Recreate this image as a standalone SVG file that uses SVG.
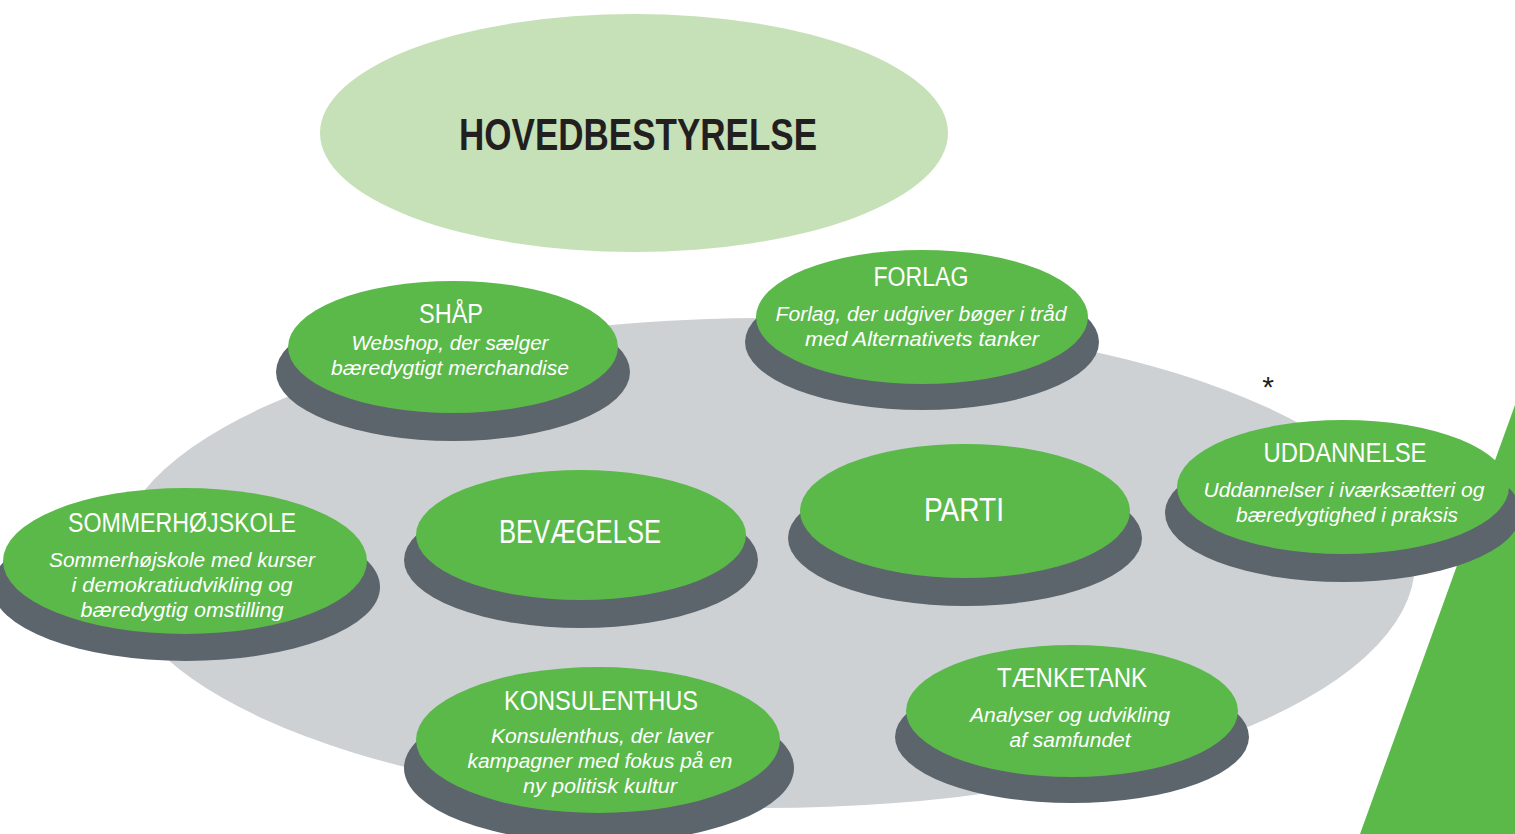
<svg xmlns="http://www.w3.org/2000/svg" width="1515" height="834" viewBox="0 0 1515 834">
<style>
.shadow{fill:#5c656b}
.node{fill:#5bb94a}
.title{font-family:"Liberation Sans",Arial,sans-serif;fill:#ffffff;text-anchor:middle;font-size:27px}
.big{font-size:33px}
.sub{font-family:"Liberation Sans",Arial,sans-serif;font-style:italic;fill:#ffffff;text-anchor:middle;font-size:19.5px}
</style>
<rect width="1515" height="834" fill="#ffffff"/>
<g id="hovedbestyrelse">
<ellipse cx="634" cy="133" rx="314" ry="119" fill="#c6e1b8"/>
<text x="638" y="150" font-family="Liberation Sans,Arial,sans-serif" font-weight="bold" font-size="44" fill="#231f20" text-anchor="middle" textLength="358" lengthAdjust="spacingAndGlyphs">HOVEDBESTYRELSE</text>
</g>
<g id="background">
<ellipse cx="765" cy="563" rx="650" ry="245" fill="#cdd1d4"/>
<polygon points="1515,405 1515,834 1360,834" fill="#5bb94a"/>
<text x="1268" y="397" font-family="Liberation Sans,Arial,sans-serif" font-size="30" fill="#231f20" text-anchor="middle">*</text>
</g>
<g id="connectors"></g>
<g id="shaap">
<ellipse class="shadow" cx="453" cy="372" rx="177" ry="69"/>
<ellipse class="node" cx="453" cy="347" rx="165" ry="66"/>
<text class="title" x="451" y="323" textLength="64" lengthAdjust="spacingAndGlyphs">SHÅP</text>
<text class="sub" x="450" y="350" textLength="197" lengthAdjust="spacingAndGlyphs">Webshop, der sælger</text>
<text class="sub" x="450" y="375" textLength="238" lengthAdjust="spacingAndGlyphs">bæredygtigt merchandise</text>
</g>
<g id="forlag">
<ellipse class="shadow" cx="922" cy="342" rx="177" ry="68"/>
<ellipse class="node" cx="922" cy="317" rx="166" ry="67"/>
<text class="title" x="921" y="286" textLength="95" lengthAdjust="spacingAndGlyphs">FORLAG</text>
<text class="sub" x="921" y="321" textLength="291" lengthAdjust="spacingAndGlyphs">Forlag, der udgiver bøger i tråd</text>
<text class="sub" x="922" y="346" textLength="234" lengthAdjust="spacingAndGlyphs">med Alternativets tanker</text>
</g>
<g id="uddannelse">
<ellipse class="shadow" cx="1343" cy="513" rx="178" ry="69"/>
<ellipse class="node" cx="1343" cy="487" rx="166" ry="67"/>
<text class="title" x="1345" y="462" textLength="163" lengthAdjust="spacingAndGlyphs">UDDANNELSE</text>
<text class="sub" x="1344" y="497" textLength="281" lengthAdjust="spacingAndGlyphs">Uddannelser i iværksætteri og</text>
<text class="sub" x="1347" y="522" textLength="222" lengthAdjust="spacingAndGlyphs">bæredygtighed i praksis</text>
</g>
<g id="sommerhoejskole">
<ellipse class="shadow" cx="186" cy="587" rx="194" ry="74"/>
<ellipse class="node" cx="185" cy="561" rx="182" ry="73"/>
<text class="title" x="182" y="532" textLength="228" lengthAdjust="spacingAndGlyphs">SOMMERHØJSKOLE</text>
<text class="sub" x="182" y="567" textLength="266" lengthAdjust="spacingAndGlyphs">Sommerhøjskole med kurser</text>
<text class="sub" x="182" y="592" textLength="221" lengthAdjust="spacingAndGlyphs">i demokratiudvikling og</text>
<text class="sub" x="182" y="617" textLength="203" lengthAdjust="spacingAndGlyphs">bæredygtig omstilling</text>
</g>
<g id="bevaegelse">
<ellipse class="shadow" cx="581" cy="560" rx="177" ry="68"/>
<ellipse class="node" cx="581" cy="535" rx="165" ry="65"/>
<text class="title big" x="580" y="543" textLength="162" lengthAdjust="spacingAndGlyphs">BEVÆGELSE</text>
</g>
<g id="parti">
<ellipse class="shadow" cx="965" cy="538" rx="177" ry="68"/>
<ellipse class="node" cx="965" cy="511" rx="165" ry="67"/>
<text class="title big" x="964" y="521" textLength="80" lengthAdjust="spacingAndGlyphs">PARTI</text>
</g>
<g id="konsulenthus">
<ellipse class="shadow" cx="599" cy="768" rx="195" ry="75"/>
<ellipse class="node" cx="598" cy="740" rx="182" ry="73"/>
<text class="title" x="601" y="710" textLength="194" lengthAdjust="spacingAndGlyphs">KONSULENTHUS</text>
<text class="sub" x="602" y="743" textLength="222" lengthAdjust="spacingAndGlyphs">Konsulenthus, der laver</text>
<text class="sub" x="600" y="768" textLength="265" lengthAdjust="spacingAndGlyphs">kampagner med fokus på en</text>
<text class="sub" x="600" y="793" textLength="154" lengthAdjust="spacingAndGlyphs">ny politisk kultur</text>
</g>
<g id="taenketank">
<ellipse class="shadow" cx="1072" cy="737" rx="177" ry="66"/>
<ellipse class="node" cx="1072" cy="711" rx="166" ry="66"/>
<text class="title" x="1072" y="687" textLength="150" lengthAdjust="spacingAndGlyphs">TÆNKETANK</text>
<text class="sub" x="1070" y="722" textLength="200" lengthAdjust="spacingAndGlyphs">Analyser og udvikling</text>
<text class="sub" x="1070" y="747" textLength="121" lengthAdjust="spacingAndGlyphs">af samfundet</text>
</g>
</svg>
